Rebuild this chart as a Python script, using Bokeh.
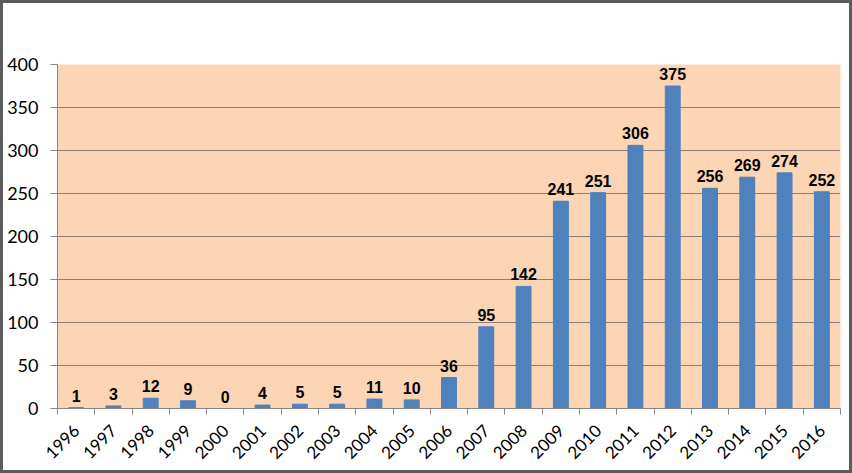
import math
from bokeh.plotting import figure
from bokeh.models import Range1d, FixedTicker, LinearAxis, ColumnDataSource
from bokeh.core.properties import value
from bokeh.embed import file_html
from bokeh.resources import INLINE

years = ["1996", "1997", "1998", "1999", "2000", "2001", "2002", "2003", "2004", "2005", "2006",
         "2007", "2008", "2009", "2010", "2011", "2012", "2013", "2014", "2015", "2016"]
counts = [1, 3, 12, 9, 0, 4, 5, 5, 11, 10, 36, 95, 142, 241, 251, 306, 375, 256, 269, 274, 252]
y_ticks = [0, 50, 100, 150, 200, 250, 300, 350, 400]

n = len(years)
xs = [i + 0.5 for i in range(n)]
src = ColumnDataSource(dict(x=xs, y=counts, label=[str(c) for c in counts]))

p = figure(width=846, height=467, output_backend="svg", toolbar_location=None,
           x_range=Range1d(0, n), y_range=Range1d(0, 400),
           frame_width=783, frame_height=344,
           min_border_left=54, min_border_top=61, min_border_right=9, min_border_bottom=62)
p.styles = {"border": "3px solid #5c5c5c"}
p.background_fill_color = "#FCD5B5"
p.border_fill_color = "white"
p.outline_line_color = None

p.vbar(x="x", top="y", width=0.4, source=src, color="#4F81BD")
p.text(x="x", y="y", text="label", source=src, text_align="center", text_baseline="bottom",
       y_offset=-6, text_font=value("Liberation Sans"), text_font_style="bold",
       text_font_size="16px", text_color="black")

# grid
p.xgrid.visible = False
p.ygrid.grid_line_color = "#8E8079"
p.ygrid.ticker = FixedTicker(ticks=y_ticks)

# y axis
ya = p.yaxis[0]
ya.ticker = FixedTicker(ticks=y_ticks)
ya.axis_line_color = "#868686"
ya.major_tick_line_color = "#868686"
ya.major_tick_out = 7
ya.major_tick_in = 0
ya.minor_tick_line_color = None
ya.major_label_standoff = 12
ya.major_label_text_font = "Lato"
ya.major_label_text_font_size = "18px"
ya.major_label_text_color = "black"

# x axis with ticks at category boundaries
xa = p.xaxis[0]
xa.ticker = FixedTicker(ticks=list(range(n + 1)))
xa.major_label_overrides = {i: "" for i in range(n + 1)}
xa.major_label_text_font_size = "1px"
xa.major_label_standoff = 0
xa.axis_line_color = "#868686"
xa.major_tick_line_color = "#868686"
xa.major_tick_out = 6
xa.major_tick_in = 0
xa.minor_tick_line_color = None

# x axis with year labels at category centres
xl = LinearAxis(ticker=FixedTicker(ticks=xs),
                major_label_overrides={x: y for x, y in zip(xs, years)})
xl.axis_line_color = None
xl.major_tick_line_color = None
xl.minor_tick_line_color = None
xl.major_label_orientation = math.pi / 4
xl.major_label_standoff = 7
xl.major_label_text_font = "Lato"
xl.major_label_text_font_size = "17px"
xl.major_label_text_color = "black"
p.add_layout(xl, "below")

open("out.html", "w").write(file_html(p, INLINE))
